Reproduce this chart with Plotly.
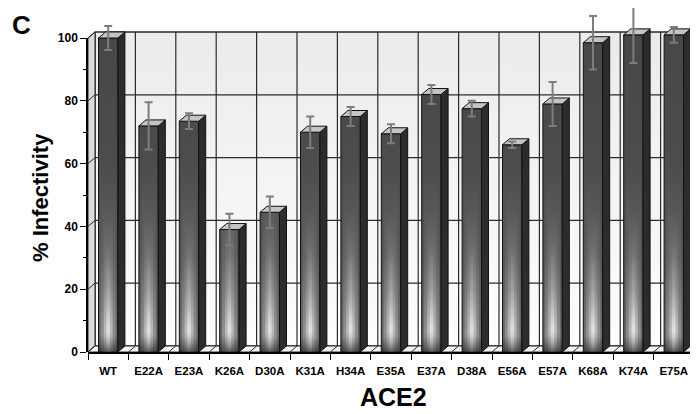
import plotly.graph_objects as go

# ---------------- data ----------------
categories = ['WT', 'E22A', 'E23A', 'K26A', 'D30A', 'K31A', 'H34A', 'E35A',
              'E37A', 'D38A', 'E56A', 'E57A', 'K68A', 'K74A', 'E75A']
infectivity = [100, 72, 73.5, 39, 44.5, 70, 75, 69.5, 82, 77.5, 66, 79, 98.5, 101, 101]
errors = [3.8, 7.5, 2.5, 5, 5, 5, 3, 3, 3, 2.5, 1, 7, 8.5, 9, 2.5]
y_ticks = [0, 20, 40, 60, 80, 100]

# ---------------- geometry / style ----------------
OFF = 8                          # page body margin of the html page
W, H = 698 - OFF, 414 - OFF
X0_PX, Y0_PX = 88 - OFF, 352 - OFF   # pixel position of axis origin (in figure)
PX_PER_CAT = 40.4
PX_PER_UNIT = 3.14
DEPTH_X_PX, DEPTH_Y_PX = 7, 6   # 3D depth offset
n = len(categories)
x_left = -0.5
x_right = x_left + (W - X0_PX) / PX_PER_CAT
y_top = Y0_PX / PX_PER_UNIT
dx = DEPTH_X_PX / PX_PER_CAT
dy = DEPTH_Y_PX / PX_PER_UNIT
hw = 0.24                        # half width of bar front face
wall_top = 100
right_end = n - 0.5 + 1.0
FONT = 'Liberation Sans, Arial, sans-serif'

fig = go.Figure()


def poly(xs, ys, fill=None, line_color='black', line_width=1, gradient=None):
    kw = dict(x=list(xs) + [xs[0]], y=list(ys) + [ys[0]], mode='lines', fill='toself',
              line=dict(color=line_color, width=line_width), hoverinfo='skip', showlegend=False)
    if gradient is not None:
        kw['fillgradient'] = gradient
    else:
        kw['fillcolor'] = fill
    fig.add_trace(go.Scatter(**kw))


def seg(x0, y0, x1, y1, color='#2b2b2b', width=1.2):
    fig.add_trace(go.Scatter(x=[x0, x1], y=[y0, y1], mode='lines',
                             line=dict(color=color, width=width),
                             hoverinfo='skip', showlegend=False))


# back wall
poly([x_left + dx, right_end, right_end, x_left + dx],
     [dy, dy, wall_top + dy, wall_top + dy],
     gradient=dict(type='vertical', start=dy, stop=wall_top + dy,
                   colorscale=[[0, '#fdfdfd'], [1, '#ebebeb']]),
     line_color='#2b2b2b', line_width=1.2)
# back wall grid
for t in y_ticks:
    seg(x_left + dx, t + dy, right_end, t + dy)
bounds = [i - 0.5 for i in range(n + 1)]
for b in bounds:
    seg(b + dx, dy, b + dx, wall_top + dy)
# left side wall
poly([x_left, x_left, x_left + dx, x_left + dx], [0, wall_top, wall_top + dy, dy],
     fill='#dadada', line_color='#2b2b2b', line_width=1)
for t in y_ticks:
    seg(x_left, t, x_left + dx, t + dy, width=1)
# floor
poly([x_left, right_end, right_end, x_left + dx], [0, 0, dy, dy],
     fill='#f3f3f3', line_color='#2b2b2b', line_width=1)
for b in bounds:
    seg(b, 0, b + dx, dy, width=1)

# bars
base_scale = [[0, '#3a3a3a'], [0.05, '#6c6c6c'], [0.3, '#565656'], [0.6, '#4c4c4c'], [1, '#474747']]
hl_scales = [
    (0.75, [[0, 'rgba(255,255,255,0.05)'], [0.06, 'rgba(255,255,255,0.25)'],
            [0.3, 'rgba(255,255,255,0.08)'], [0.6, 'rgba(255,255,255,0)'], [1, 'rgba(255,255,255,0)']]),
    (0.45, [[0, 'rgba(255,255,255,0.05)'], [0.07, 'rgba(255,255,255,0.4)'],
            [0.2, 'rgba(255,255,255,0.15)'], [0.45, 'rgba(255,255,255,0)'], [1, 'rgba(255,255,255,0)']]),
    (0.18, [[0, 'rgba(255,255,255,0.05)'], [0.07, 'rgba(255,255,255,0.55)'],
            [0.15, 'rgba(255,255,255,0.25)'], [0.35, 'rgba(255,255,255,0)'], [1, 'rgba(255,255,255,0)']]),
]
for i, v in enumerate(infectivity):
    # front face
    poly([i - hw, i - hw, i + hw, i + hw], [0, v, v, 0],
         gradient=dict(type='vertical', start=0, stop=100, colorscale=base_scale),
         line_color='#111111', line_width=1)
    for frac, cs in hl_scales:
        poly([i - hw * frac, i - hw * frac, i + hw * frac, i + hw * frac], [0, v, v, 0],
             gradient=dict(type='vertical', start=0, stop=100, colorscale=cs),
             line_color='rgba(0,0,0,0)', line_width=0)
    # side face
    poly([i + hw, i + hw, i + hw + dx, i + hw + dx], [0, v, v + dy, dy],
         fill='#2c2c2c', line_color='#111111', line_width=1)
    # top face
    poly([i - hw, i + hw, i + hw + dx, i - hw + dx], [v, v, v + dy, v + dy],
         fill='#c4c4c4', line_color='#111111', line_width=1)

# error bars
fig.add_trace(go.Scatter(
    x=list(range(n)), y=infectivity, mode='markers',
    marker=dict(size=1, color='rgba(0,0,0,0)'),
    error_y=dict(type='data', array=errors, visible=True, color='#7d7d7d', thickness=2, width=4),
    hoverinfo='skip', showlegend=False))

# dummy traces to activate label axes
fig.add_trace(go.Scatter(x=[None], y=[None], xaxis='x2', yaxis='y', showlegend=False))
fig.add_trace(go.Scatter(x=[None], y=[None], xaxis='x', yaxis='y2', showlegend=False))

x_dom = [X0_PX / W, 1]
fig.update_layout(
    width=W, height=H,
    margin=dict(l=0, r=0, t=0, b=0, autoexpand=False),
    paper_bgcolor='white', plot_bgcolor='rgba(0,0,0,0)',
    showlegend=False,
    xaxis=dict(domain=x_dom, range=[x_left, x_right], showgrid=False, zeroline=False,
               automargin=False,
               showline=True, linecolor='black', linewidth=1.5,
               tickmode='array', tickvals=bounds, ticks='outside', ticklen=6,
               tickcolor='black', tickwidth=1.2, showticklabels=False, anchor='y'),
    xaxis2=dict(overlaying='x', range=[x_left, x_right], showgrid=False, zeroline=False,
                automargin=False,
                showline=False, tickmode='array', tickvals=list(range(n)), ticktext=categories,
                ticks='outside', ticklen=8, tickcolor='rgba(0,0,0,0)', side='bottom', anchor='y',
                tickfont=dict(family=FONT, size=11.5, color='black', weight='bold')),
    yaxis=dict(domain=[(H - Y0_PX) / H, 1], range=[0, y_top], showgrid=False, zeroline=False,
               automargin=False, showline=False, ticks='', showticklabels=False),
    yaxis2=dict(domain=[(H - Y0_PX) / H, (H - Y0_PX + 100 * PX_PER_UNIT) / H], range=[0, 100],
                automargin=False,
                anchor='x', showgrid=False, zeroline=False, showline=True, linecolor='black',
                linewidth=1.5, tickmode='array', tickvals=y_ticks, ticks='outside', ticklen=6,
                tickcolor='black', tickwidth=1.2,
                minor=dict(dtick=10, ticks='outside', ticklen=3, tickcolor='black', showgrid=False),
                tickfont=dict(family=FONT, size=12, color='black', weight='bold')),
    annotations=[
        dict(text='<b>C</b>', x=(22 - OFF) / W, y=1 - (25 - OFF) / H, xref='paper', yref='paper',
             xanchor='center', yanchor='middle',
             showarrow=False, font=dict(family=FONT, size=26, color='black')),
        dict(text='<b>% Infectivity</b>', x=(40 - OFF) / W, y=1 - (198 - OFF) / H,
             xref='paper', yref='paper', xanchor='center', yanchor='middle',
             textangle=-90, showarrow=False, font=dict(family=FONT, size=22, color='black')),
        dict(text='<b>ACE2</b>', x=(394 - OFF) / W, y=1 - (397 - OFF) / H,
             xref='paper', yref='paper', xanchor='center', yanchor='middle',
             showarrow=False, font=dict(family=FONT, size=25, color='black')),
    ],
)

fig.write_html('out.html')
